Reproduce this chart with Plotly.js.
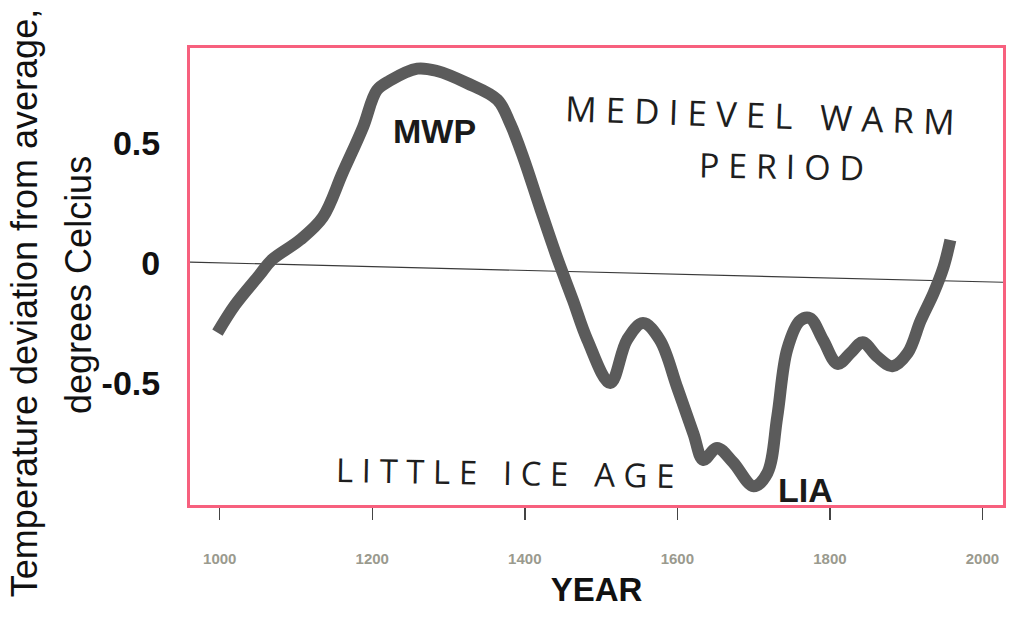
<!DOCTYPE html>
<html>
<head>
<meta charset="utf-8">
<script src="https://cdn.plot.ly/plotly-3.0.1.min.js"></script>
<style>
  html, body { margin: 0; padding: 0; background: #ffffff; }
  #chart { width: 1018px; height: 622px; }
</style>
</head>
<body>
<div id="chart"></div>
<script>
// Temperature deviation from average (degrees Celsius)
const years = [997, 1020, 1052, 1068, 1105, 1135, 1161, 1188, 1206, 1223, 1259, 1285,
  1324, 1364, 1381, 1398, 1420, 1442, 1463, 1482, 1512, 1534, 1555, 1577, 1600,
  1621, 1634, 1652, 1673, 1700, 1718, 1731, 1744, 1761, 1774, 1791, 1810, 1827,
  1843, 1862, 1882, 1902, 1919, 1936, 1949, 1958];
const deviation = [-0.29, -0.175, -0.05, 0.0125, 0.096, 0.19, 0.375, 0.567, 0.72, 0.76, 0.81, 0.80,
  0.75, 0.68, 0.58, 0.44, 0.23, 0.025, -0.154, -0.32, -0.50, -0.32, -0.25, -0.32, -0.52,
  -0.71, -0.82, -0.77, -0.83, -0.93, -0.875, -0.64, -0.36, -0.24, -0.23, -0.32, -0.42, -0.375,
  -0.33, -0.39, -0.43, -0.375, -0.24, -0.125, -0.017, 0.096];

// Hand-drawn reference ("zero") line, slightly sloped in the picture
const refLineYears = [961, 2027];
const refLineValues = [0.004, -0.08];

const xTickVals = [1000, 1200, 1400, 1600, 1800, 2000];
const xTickText = ['1000', '1200', '1400', '1600', '1800', '2000'];
const yTickVals = [-0.5, 0, 0.5];
const yTickText = ['-0.5', '0', '0.5'];

const traces = [
  {
    x: refLineYears, y: refLineValues, mode: 'lines', type: 'scatter',
    line: { color: '#3a3a3a', width: 1.2 }, hoverinfo: 'skip', showlegend: false
  },
  {
    x: years, y: deviation, mode: 'lines', type: 'scatter',
    line: { color: '#5b5b5b', width: 12, shape: 'spline', smoothing: 1 },
    showlegend: false
  }
];

const handFamily = 'Open Sans, DejaVu Sans, sans-serif';
const handColor = '#1e1e1e';
const gap = '&#160;&#160;&#160;';

const layout = {
  width: 1018, height: 622,
  margin: { l: 190, r: 15, t: 48, b: 117 },
  paper_bgcolor: '#ffffff', plot_bgcolor: '#ffffff',
  showlegend: false,
  xaxis: {
    range: [961, 2027],
    tickvals: xTickVals, ticktext: xTickText,
    ticks: 'outside', ticklen: 12, tickwidth: 1.5, tickcolor: '#444',
    ticklabelstandoff: 26,
    tickfont: { family: 'Liberation Sans, Arial, sans-serif', size: 15, color: '#9a9a8e', weight: 'bold' },
    showgrid: false, zeroline: false,
    showline: true, mirror: true, linecolor: '#f7607e', linewidth: 3,
    title: { text: 'YEAR', font: { family: 'Liberation Sans, Arial, sans-serif', size: 33, color: '#111', weight: 'bold' }, standoff: 12 }
  },
  yaxis: {
    range: [-1.008, 0.896],
    tickvals: yTickVals, ticktext: yTickText,
    ticks: '', ticklabelstandoff: 20,
    tickfont: { family: 'Liberation Sans, Arial, sans-serif', size: 34, color: '#111', weight: 'bold' },
    showgrid: false, zeroline: false,
    showline: true, mirror: true, linecolor: '#f7607e', linewidth: 3
  },
  annotations: [
    { text: 'Temperature deviation from average,', xref: 'paper', yref: 'paper',
      x: -0.204, y: 0.442, xanchor: 'center', yanchor: 'middle', textangle: -90,
      showarrow: false, font: { family: 'Liberation Sans, Arial, sans-serif', size: 36, color: '#111' } },
    { text: 'degrees Celcius', xref: 'paper', yref: 'paper',
      x: -0.138, y: 0.481, xanchor: 'center', yanchor: 'middle', textangle: -90,
      showarrow: false, font: { family: 'Liberation Sans, Arial, sans-serif', size: 36, color: '#111' } },
    { text: 'MWP', xref: 'paper', yref: 'paper', x: (434 - 190) / 813, y: (505 - 131) / 457,
      xanchor: 'center', yanchor: 'middle', showarrow: false,
      font: { family: 'Liberation Sans, Arial, sans-serif', size: 34, color: '#1a1a1a', weight: 'bold' } },
    { text: 'LIA', xref: 'paper', yref: 'paper', x: (805 - 190) / 813, y: (505 - 490) / 457,
      xanchor: 'center', yanchor: 'middle', showarrow: false,
      font: { family: 'Liberation Sans, Arial, sans-serif', size: 34, color: '#1a1a1a', weight: 'bold' } },
    { text: 'M E D I E V E L' + gap + 'W A R M', xref: 'paper', yref: 'paper',
      x: (760 - 190) / 813, y: (505 - 114) / 457, xanchor: 'center', yanchor: 'middle',
      textangle: 2, showarrow: false, font: { family: handFamily, size: 35, color: handColor, weight: 400 } },
    { text: 'P E R I O D', xref: 'paper', yref: 'paper',
      x: (781 - 190) / 813, y: (505 - 166) / 457, xanchor: 'center', yanchor: 'middle',
      textangle: 1, showarrow: false, font: { family: handFamily, size: 34, color: handColor, weight: 400 } },
    { text: 'L I T T L E' + gap + 'I C E' + gap + 'A G E', xref: 'paper', yref: 'paper',
      x: (505 - 190) / 813, y: (505 - 472) / 457, xanchor: 'center', yanchor: 'middle',
      textangle: 1, showarrow: false, font: { family: handFamily, size: 33, color: handColor, weight: 400 } }
  ]
};

Plotly.newPlot('chart', traces, layout, { displayModeBar: false, staticPlot: true });
</script>
</body>
</html>
